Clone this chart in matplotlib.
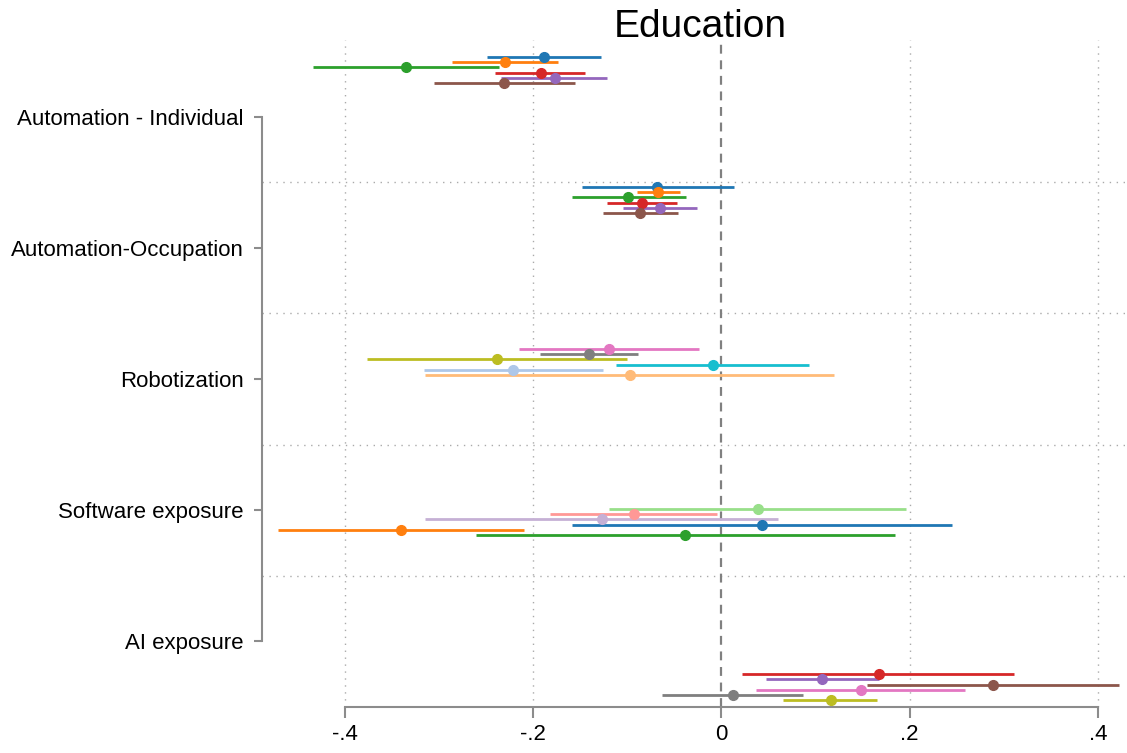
import numpy as np
import matplotlib.pyplot as plt

plt.rcParams['font.family'] = ['Liberation Sans', 'DejaVu Sans']

groups = ["Automation - Individual", "Automation-Occupation", "Robotization",
          "Software exposure", "AI exposure"]

# point estimates and confidence bounds, six models per group
est = [
    [-0.188, -0.230, -0.335, -0.192, -0.177, -0.231],
    [-0.068, -0.067, -0.099, -0.084, -0.065, -0.086],
    [-0.119, -0.141, -0.238, -0.009, -0.221, -0.097],
    [0.039, -0.093, -0.127, 0.043, -0.340, -0.039],
    [0.167, 0.107, 0.289, 0.148, 0.012, 0.116],
]
lo = [
    [-0.249, -0.286, -0.434, -0.241, -0.234, -0.305],
    [-0.148, -0.090, -0.159, -0.122, -0.104, -0.126],
    [-0.215, -0.193, -0.376, -0.112, -0.316, -0.315],
    [-0.119, -0.182, -0.315, -0.159, -0.471, -0.261],
    [0.022, 0.047, 0.155, 0.037, -0.063, 0.066],
]
hi = [
    [-0.128, -0.174, -0.236, -0.145, -0.121, -0.156],
    [0.013, -0.044, -0.038, -0.047, -0.026, -0.046],
    [-0.024, -0.089, -0.100, 0.093, -0.126, 0.120],
    [0.196, -0.005, 0.060, 0.245, -0.210, 0.184],
    [0.311, 0.168, 0.423, 0.259, 0.087, 0.165],
]
xticks = [-0.4, -0.2, 0, 0.2, 0.4]
xtick_labels = ["-.4", "-.2", "0", ".2", ".4"]

palette = ["#1f77b4", "#ff7f0e", "#2ca02c", "#d62728", "#9467bd", "#8c564b",
           "#e377c2", "#7f7f7f", "#bcbd22", "#17becf", "#aec7e8", "#ffbb78",
           "#98df8a", "#ff9896", "#c5b0d5"]
# first colour index used by each group
color_start = [0, 0, 6, 12, 18]

# vertical start of each group's stack (label units), and step between models
group_start = [0.542, 1.533, 2.771, 3.992, 5.252]
step = 0.040

fig = plt.figure(figsize=(11.27, 7.53), dpi=100)
ax = fig.add_axes([0.2325, 0.061, 0.7675, 0.886])

for g in range(len(groups)):
    for m in range(6):
        y = group_start[g] + m * step
        c = palette[(color_start[g] + m) % len(palette)]
        ax.plot([lo[g][m], hi[g][m]], [y, y], color=c, lw=2.0,
                solid_capstyle='butt', zorder=3)
        ax.plot(est[g][m], y, 'o', color=c, ms=7, zorder=4)

# grid lines
for x in [-0.4, -0.2, 0.2, 0.4]:
    ax.axvline(x, color='#aaaaaa', lw=1, ls=(0, (1, 4)), zorder=1)
for y in [1.5, 2.5, 3.5, 4.5]:
    ax.axhline(y, color='#aaaaaa', lw=1, ls=(0, (1, 4)), zorder=1)
ax.axvline(0, color='#808080', lw=1.6, ls=(0, (4, 3)), zorder=2)

ax.set_xlim(-0.488, 0.431)
ax.set_ylim(5.504, 0.412)

ax.set_yticks(range(1, 6))
ax.set_yticklabels(groups, fontsize=16)
ax.set_xticks(xticks)
ax.set_xticklabels(xtick_labels, fontsize=16)

for s in ['top', 'right']:
    ax.spines[s].set_visible(False)
ax.spines['left'].set_bounds(1, 5)
ax.spines['bottom'].set_bounds(-0.4, 0.4)
for s in ['left', 'bottom']:
    ax.spines[s].set_color('#8c8c8c')
    ax.spines[s].set_linewidth(1.5)
ax.tick_params(axis='both', colors='#8c8c8c', labelcolor='black', width=1.5)
ax.tick_params(axis='x', length=8, pad=4)
ax.tick_params(axis='y', length=6, pad=7)

fig.text(0.621, 0.951, "Education", fontsize=28, ha='center', va='baseline')

fig.savefig("out.png", dpi=100)
